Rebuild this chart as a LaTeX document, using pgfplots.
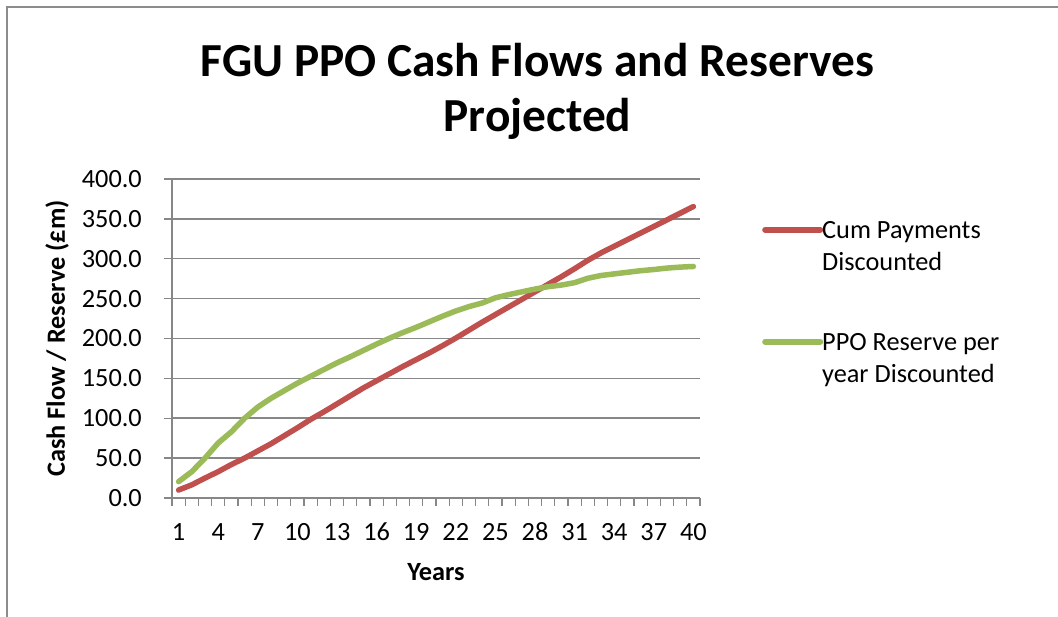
\documentclass[border=0pt]{standalone}
\usepackage{fontspec}
\setmainfont{Carlito}
\usepackage{pgfplots}
\pgfplotsset{compat=1.18}
\definecolor{cred}{HTML}{C0504D}
\definecolor{cgreen}{HTML}{9BBB59}
\definecolor{cgrid}{HTML}{878787}
\definecolor{cframe}{HTML}{8C8C8C}
\newcommand{\tf}{\fontsize{26.3}{32.4}\selectfont}
\pgfplotstableread{
year cum ppo
1 10 20.5
2 16.5 33
3 25 50
4 33 69
5 42 83
6 50 100
7 59 114
8 68 125
9 78 134.5
10 88 144
11 98.5 152.5
12 108 161
13 118 169.5
14 128 177
15 138 185
16 147 193
17 156 200.5
18 165 207.5
19 173.5 214
20 182 221
21 191 228
22 200.5 234.5
23 210.5 240
24 220.5 244.5
25 230 251
26 239.5 255
27 249 258.5
28 258.5 262
29 268 265
30 277.5 267
31 287.5 270
32 298 275.5
33 307.3 279
34 315.6 281
35 323.9 283
36 332.2 285
37 340.5 286.5
38 348.8 288.3
39 357.1 289.5
40 365.4 290.3
}\datatable
\begin{document}
\begin{tikzpicture}[x=1pt,y=1pt]
\useasboundingbox (0,0) rectangle (1058,617);
\draw[cframe, line width=1.3pt] (7,-2) -- (7,610) -- (1060,610);
\node[anchor=base, font=\fontsize{47.4}{57}\selectfont\bfseries, inner sep=0pt] at (537.5,540) {FGU PPO Cash Flows and Reserves};
\node[anchor=base, font=\fontsize{47.4}{57}\selectfont\bfseries, inner sep=0pt] at (537.5,485) {Projected};
\begin{axis}[
  at={(172pt,119pt)}, anchor=south west,
  scale only axis, width=528pt, height=319pt,
  xmin=0.5, xmax=40.5, ymin=0, ymax=400,
  axis x line*=bottom, axis y line*=left,
  axis line style={-, cgrid, line width=1.5pt},
  ytick={0,50,...,400},
  ymajorgrids, major grid style={cgrid, line width=1.5pt},
  xtick={0.5,1.5,...,40.5}, xticklabels={},
  extra x ticks={1,4,...,40},
  extra x tick style={major tick length=0pt},
  tick align=outside, major tick length=8pt,
  tick style={cgrid, line width=1.3pt},
  /pgf/number format/assume math mode=true,
  yticklabel={\pgfmathprintnumber[fixed,fixed zerofill,precision=1]{\tick}},
  ticklabel style={font=\tf, inner sep=0pt},
  yticklabel style={anchor=east, xshift=-22pt},
  xticklabel style={anchor=base, yshift=-43pt},
  xlabel={Years},
  ylabel={Cash Flow / Reserve (£m)},
  every axis x label/.style={at={(axis description cs:0.5,-0.26)}, anchor=base, font=\tf\bfseries},
  every axis y label/.style={at={(axis description cs:-0.2178,0.5)}, rotate=90, anchor=center, font=\tf\bfseries},
  legend style={at={(axis description cs:1.1174,0.8745)}, anchor=north west, draw=none, fill=none,
    font=\tf, inner sep=0pt, row sep=57pt, cells={align=left, anchor=west, inner sep=2pt},
    /tikz/every odd column/.append style={column sep=-3pt}},
  legend image code/.code={\draw[#1, line width=6pt] (0pt,17pt) -- (55pt,17pt);},
]
\addplot[cred, line width=5.5pt, line join=round, line cap=round] table[x=year, y=cum] {\datatable};
\addlegendentry{Cum Payments\\Discounted}
\addplot[cgreen, line width=5.5pt, line join=round, line cap=round] table[x=year, y=ppo] {\datatable};
\addlegendentry{PPO Reserve per\\year Discounted}
\end{axis}
\end{tikzpicture}
\end{document}
